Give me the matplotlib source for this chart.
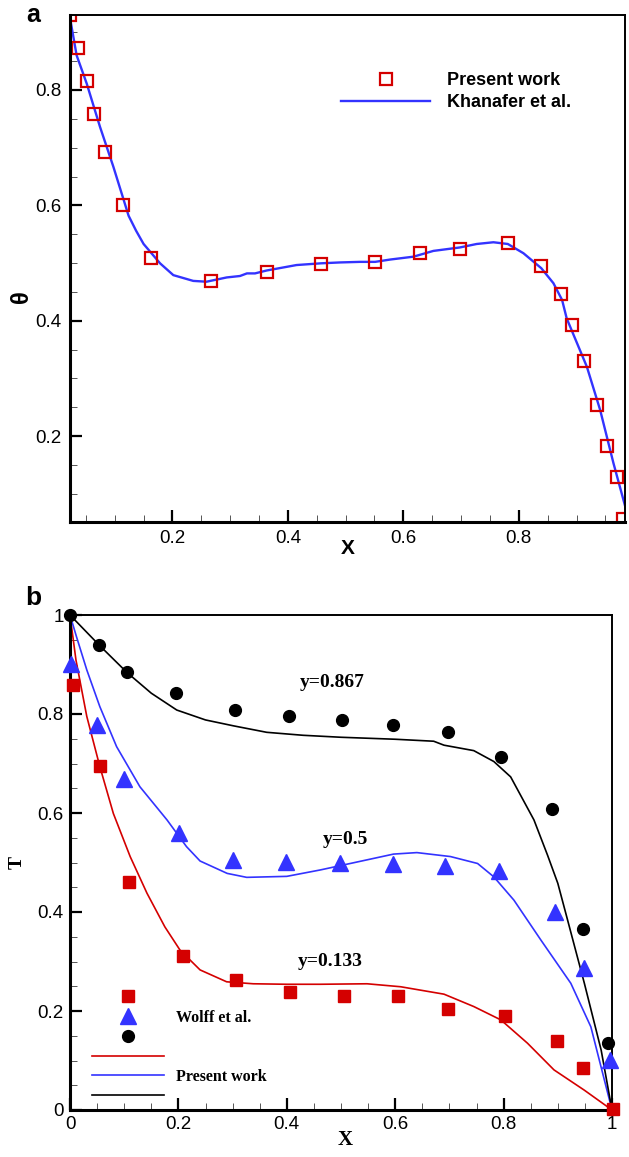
"""Two-panel validation plot: (a) theta along X vs Khanafer et al., (b) T profiles vs Wolff et al."""
import matplotlib; matplotlib.use("Agg"); import matplotlib.pyplot as plt
from matplotlib.lines import Line2D
from matplotlib.ticker import MultipleLocator

# ---- panel a data ----
a_sq_x = [0.0225, 0.037, 0.0515, 0.064, 0.083, 0.114, 0.163, 0.266, 0.363, 0.4575, 0.551, 0.628,
          0.698, 0.781, 0.839, 0.873, 0.892, 0.913, 0.936, 0.953, 0.970, 0.981]
a_sq_y = [0.930, 0.872, 0.816, 0.758, 0.693, 0.6005, 0.508, 0.469, 0.484, 0.498, 0.501, 0.517,
          0.525, 0.534, 0.495, 0.447, 0.3925, 0.330, 0.254, 0.182, 0.1285, 0.056]
a_ln_x = [0.0225, 0.034, 0.0515, 0.0745, 0.0976, 0.124, 0.137, 0.150, 0.1785, 0.2015, 0.236, 0.259,
          0.294, 0.317, 0.329, 0.343, 0.363, 0.415, 0.4575, 0.490, 0.525, 0.551, 0.577, 0.6175,
          0.652, 0.698, 0.727, 0.756, 0.781, 0.808, 0.839, 0.860, 0.875, 0.883, 0.918, 0.941,
          0.964, 0.986]
a_ln_y = [0.925, 0.860, 0.811, 0.736, 0.667, 0.582, 0.556, 0.533, 0.4995, 0.479, 0.469, 0.4676,
          0.475, 0.4775, 0.482, 0.482, 0.487, 0.4965, 0.4995, 0.501, 0.502, 0.502, 0.506, 0.511,
          0.521, 0.527, 0.533, 0.536, 0.533, 0.517, 0.491, 0.465, 0.436, 0.404, 0.320, 0.245,
          0.153, 0.072]

# ---- panel b data: Wolff et al. (markers) ----
w133_x = [0.005, 0.056, 0.109, 0.208, 0.306, 0.405, 0.505, 0.605, 0.698, 0.802, 0.898, 0.946, 1.001]
w133_y = [0.859, 0.694, 0.461, 0.311, 0.263, 0.239, 0.231, 0.231, 0.205, 0.190, 0.139, 0.084, 0.003]
w05_x = [0.001, 0.049, 0.099, 0.202, 0.301, 0.399, 0.498, 0.596, 0.691, 0.792, 0.895, 0.949, 0.997]
w05_y = [0.902, 0.778, 0.669, 0.559, 0.505, 0.502, 0.500, 0.497, 0.492, 0.483, 0.401, 0.286, 0.101]
w867_x = [0.0, 0.054, 0.105, 0.196, 0.304, 0.404, 0.502, 0.596, 0.698, 0.795, 0.889, 0.946, 0.993]
w867_y = [1.0, 0.939, 0.884, 0.843, 0.808, 0.795, 0.788, 0.778, 0.764, 0.714, 0.609, 0.366, 0.136]

# ---- panel b data: present work (lines) ----
p133_x = [0, 0.011, 0.031, 0.055, 0.080, 0.111, 0.142, 0.175, 0.203, 0.24, 0.289, 0.338, 0.4,
          0.462, 0.548, 0.61, 0.69, 0.745, 0.795, 0.844, 0.893, 0.949, 1.0]
p133_y = [1.0, 0.909, 0.795, 0.694, 0.599, 0.512, 0.438, 0.37, 0.323, 0.283, 0.259, 0.255, 0.254,
          0.254, 0.255, 0.249, 0.234, 0.209, 0.182, 0.135, 0.081, 0.040, 0.0]
p05_x = [0, 0.012, 0.031, 0.055, 0.086, 0.129, 0.179, 0.215, 0.24, 0.29, 0.326, 0.40, 0.462,
         0.517, 0.597, 0.64, 0.702, 0.752, 0.782, 0.819, 0.869, 0.924, 0.961, 1.0]
p05_y = [1.0, 0.956, 0.889, 0.815, 0.734, 0.653, 0.586, 0.532, 0.503, 0.478, 0.47, 0.472, 0.485,
         0.498, 0.517, 0.520, 0.512, 0.498, 0.471, 0.424, 0.343, 0.256, 0.168, 0.0]
p867_x = [0, 0.054, 0.105, 0.15, 0.197, 0.25, 0.302, 0.363, 0.43, 0.5, 0.6, 0.671, 0.69, 0.745,
          0.782, 0.813, 0.856, 0.881, 0.9, 0.918, 0.949, 0.98, 1.0]
p867_y = [1.0, 0.939, 0.884, 0.842, 0.808, 0.788, 0.776, 0.763, 0.757, 0.753, 0.749, 0.745, 0.737,
          0.726, 0.704, 0.673, 0.586, 0.515, 0.458, 0.384, 0.256, 0.121, 0.0]

RED, BLUE, BLACK = "#d40000", "#3333ff", "black"
SANS, SERIF = "Liberation Sans", "Liberation Serif"

fig = plt.figure(figsize=(6.29, 11.57), dpi=100)
ax_a = fig.add_axes([70 / 629, 1 - 522 / 1157, 555 / 629, 507 / 1157])
ax_b = fig.add_axes([70 / 629, 1 - 1110 / 1157, 542 / 629, 495 / 1157])


def style_axes(ax):
    for s in ("left", "bottom"):
        ax.spines[s].set_linewidth(2.2)
    for s in ("top", "right"):
        ax.spines[s].set_linewidth(1.4)
    ax.xaxis.set_major_locator(MultipleLocator(0.2)); ax.xaxis.set_minor_locator(MultipleLocator(0.05))
    ax.yaxis.set_major_locator(MultipleLocator(0.2)); ax.yaxis.set_minor_locator(MultipleLocator(0.05))
    ax.tick_params(which="both", direction="in", top=False, right=False)
    ax.tick_params(which="major", length=8.5, width=1.6, labelsize=13.5, pad=6)
    ax.tick_params(which="minor", length=5, width=0.7, color="#555555")
    for lab in ax.get_xticklabels() + ax.get_yticklabels():
        lab.set_fontfamily(SANS)


# ---- panel a ----
ax_a.plot(a_ln_x, a_ln_y, color=BLUE, lw=1.7, label="Khanafer et al.")
ax_a.plot(a_sq_x, a_sq_y, ls="none", marker="s", ms=8.5, mfc="none", mec=RED, mew=1.6,
          label="Present work")
ax_a.set_xlim(0.0225, 0.984); ax_a.set_ylim(0.051, 0.93)
style_axes(ax_a)
ax_a.xaxis.set_major_formatter(lambda v, p: f"{v:g}")
ax_a.set_xlabel("X", fontsize=15, fontweight="bold", family=SANS, va="center")
ax_a.xaxis.set_label_coords(0.5, -0.053)
ax_a.set_ylabel("θ", fontsize=17, fontweight="bold", family=SANS, va="center", ha="center")
ax_a.yaxis.set_label_coords(-0.088, 0.444)
h, l = ax_a.get_legend_handles_labels()
ax_a.legend(h[::-1], l[::-1], loc="upper left", bbox_to_anchor=(0.489, 0.887), frameon=False,
            borderpad=0, borderaxespad=0, handlelength=4.9, handletextpad=0.95, labelspacing=0.28,
            prop={"family": SANS, "weight": "bold", "size": 13})

# ---- panel b ----
kw = dict(ls="none", clip_on=False, zorder=3)
ax_b.plot(w133_x, w133_y, marker="s", ms=8.5, color=RED, **kw)
ax_b.plot(w05_x, w05_y, marker="^", ms=11, color=BLUE, **kw)
ax_b.plot(w867_x, w867_y, marker="o", ms=8.5, color=BLACK, **kw)
ax_b.plot(p133_x, p133_y, color=RED, lw=1.2)
ax_b.plot(p05_x, p05_y, color=BLUE, lw=1.2)
ax_b.plot(p867_x, p867_y, color=BLACK, lw=1.2)
ax_b.set_xlim(0, 1); ax_b.set_ylim(0, 1)
style_axes(ax_b)
ax_b.tick_params(which="major", pad=4.5)
fmt = lambda v, p: f"{v:g}"
ax_b.xaxis.set_major_formatter(fmt); ax_b.yaxis.set_major_formatter(fmt)
ax_b.set_xlabel("X", fontsize=15, fontweight="bold", family=SERIF, va="center")
ax_b.xaxis.set_label_coords(0.507, -0.061)
ax_b.set_ylabel("T", fontsize=14, fontweight="bold", family=SERIF, va="center", ha="center")
ax_b.yaxis.set_label_coords(-0.098, 0.499)

tkw = dict(fontsize=14, fontweight="bold", family=SERIF, ha="center", va="center")
ax_b.text(0.484, 0.863, "y=0.867", **tkw)
ax_b.text(0.508, 0.547, "y=0.5", **tkw)
ax_b.text(0.480, 0.299, "y=0.133", **tkw)

handles = [Line2D([], [], ls="none", marker="s", ms=8.5, color=RED),
           Line2D([], [], ls="none", marker="^", ms=11, color=BLUE),
           Line2D([], [], ls="none", marker="o", ms=8.5, color=BLACK),
           Line2D([], [], color=RED, lw=1.2),
           Line2D([], [], color=BLUE, lw=1.2),
           Line2D([], [], color=BLACK, lw=1.2)]
labels = [" ", "Wolff et al.", " ", " ", "Present work", " "]
ax_b.legend(handles, labels, loc="upper left", bbox_to_anchor=(0.041, 0.243), frameon=False,
            borderpad=0, borderaxespad=0, handlelength=4.5, handletextpad=0.75, labelspacing=0.24,
            prop={"family": SERIF, "weight": "bold", "size": 11.5})

fig.text(33 / 629, 1 - 22 / 1157, "a", fontsize=18, fontweight="bold", family=SANS, ha="center", va="baseline")
fig.text(33 / 629, 1 - 598 / 1157, "b", fontsize=19, fontweight="bold", family=SANS, ha="center", va="center")

fig.savefig("out.png", dpi=100)
print("saved out.png")
